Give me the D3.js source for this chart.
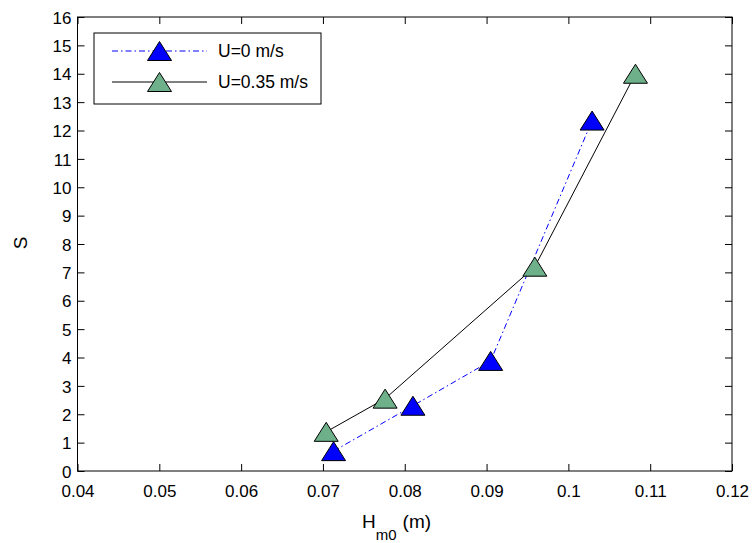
<!DOCTYPE html>
<html>
<head>
<meta charset="utf-8">
<script src="https://cdn.jsdelivr.net/npm/d3@7"></script>
<style>
  body { margin: 0; background: #fff; }
  text { font-family: "Liberation Sans", Arial, sans-serif; fill: #000; }
</style>
</head>
<body>
<svg id="chart" width="752" height="543"></svg>
<script>
// data
var xTicks = [0.04, 0.05, 0.06, 0.07, 0.08, 0.09, 0.1, 0.11, 0.12];
var yTicks = d3.range(0, 17);

// U = 0 m/s
var calmX = [0.0713, 0.0810, 0.0905, 0.1029];
var calmY = [0.70, 2.30, 3.88, 12.35];

// U = 0.35 m/s
var currX = [0.0704, 0.0776, 0.0959, 0.1082];
var currY = [1.38, 2.55, 7.20, 14.0];

var seriesNames = ["U=0 m/s", "U=0.35 m/s"];

// plot frame
var svg = d3.select("#chart");
var frame = {left: 77.5, right: 732, top: 17, bottom: 471};
var tickLen = 7;

var x = d3.scaleLinear().domain([0.04, 0.12]).range([frame.left, frame.right]);
var y = d3.scaleLinear().domain([0, 16]).range([frame.bottom, frame.top]);

var fmtX = function(d) { return d3.format(".2f")(d).replace(/0$/, "").replace(/^(\d\.\d)$/, "$10"); };
var fmtXt = function(d) {
  var s = String(+d.toFixed(2));
  return s;
};

// axes: ticks inside, on all four sides
svg.append("g")
   .attr("transform", "translate(0," + frame.bottom + ")")
   .call(d3.axisBottom(x).tickValues(xTicks).tickSizeInner(-tickLen).tickSizeOuter(0).tickFormat(fmtXt))
   .call(function(g) {
     g.select(".domain").remove();
     g.selectAll("text").attr("dy", null).attr("y", 26).style("font-size", "17px")
      .style("font-family", "Liberation Sans, Arial, sans-serif");
   });

svg.append("g")
   .attr("transform", "translate(0," + frame.top + ")")
   .call(d3.axisTop(x).tickValues(xTicks).tickSizeInner(-tickLen).tickSizeOuter(0).tickFormat(""))
   .call(function(g) { g.select(".domain").remove(); });

svg.append("g")
   .attr("transform", "translate(" + frame.left + ",0)")
   .call(d3.axisLeft(y).tickValues(yTicks).tickSizeInner(-tickLen).tickSizeOuter(0))
   .call(function(g) {
     g.select(".domain").remove();
     g.selectAll("text").attr("x", -6).attr("dy", "0.36em").style("font-size", "17px")
      .style("font-family", "Liberation Sans, Arial, sans-serif");
   });

svg.append("g")
   .attr("transform", "translate(" + frame.right + ",0)")
   .call(d3.axisRight(y).tickValues(yTicks).tickSizeInner(-tickLen).tickSizeOuter(0).tickFormat(""))
   .call(function(g) { g.select(".domain").remove(); });

// box
svg.append("rect")
   .attr("x", frame.left).attr("y", frame.top)
   .attr("width", frame.right - frame.left)
   .attr("height", frame.bottom - frame.top)
   .style("fill", "none").style("stroke", "#000").style("stroke-width", 1);

// axis titles
var xt = svg.append("text")
   .attr("x", 362).attr("y", 528)
   .style("font-size", "19px");
xt.append("tspan").text("H");
xt.append("tspan").attr("dy", 12).style("font-size", "15px").text("m0");
xt.append("tspan").attr("dy", -12).attr("dx", 6).text("(m)");

svg.append("text")
   .attr("transform", "translate(27,243) rotate(-90)")
   .attr("text-anchor", "middle")
   .style("font-size", "19px")
   .text("S");

// series
var triangle = "M0,-9.5L12,9.5L-12,9.5Z";
var line = d3.line().x(function(d) { return x(d[0]); }).y(function(d) { return y(d[1]); });

var calm = d3.zip(calmX, calmY);
var curr = d3.zip(currX, currY);

var styles = [
  {data: calm, stroke: "#0000ff", dash: "6,3,1.5,3", fill: "#0000ff"},
  {data: curr, stroke: "#000000", dash: null, fill: "#6db08a"}
];

styles.forEach(function(s) {
  svg.append("path")
     .datum(s.data)
     .attr("d", line)
     .style("fill", "none")
     .style("stroke", s.stroke)
     .style("stroke-width", 1)
     .style("stroke-dasharray", s.dash);

  svg.append("g")
     .selectAll("path.marker")
     .data(s.data)
     .enter()
     .append("path")
     .attr("class", "marker")
     .attr("d", triangle)
     .attr("transform", function(d) { return "translate(" + x(d[0]) + "," + y(d[1]) + ")"; })
     .style("fill", s.fill)
     .style("stroke", "#000")
     .style("stroke-width", 1);
});

// legend
var legend = svg.append("g");
legend.append("rect")
      .attr("x", 94).attr("y", 33).attr("width", 227).attr("height", 71)
      .style("fill", "#fff").style("stroke", "#000").style("stroke-width", 1);

var rowY = [51, 82];
styles.forEach(function(s, i) {
  legend.append("line")
        .attr("x1", 112).attr("x2", 207)
        .attr("y1", rowY[i]).attr("y2", rowY[i])
        .style("stroke", s.stroke)
        .style("stroke-width", 1)
        .style("stroke-dasharray", s.dash);
  legend.append("path")
        .attr("d", triangle)
        .attr("transform", "translate(159.5," + rowY[i] + ")")
        .style("fill", s.fill)
        .style("stroke", "#000");
  legend.append("text")
        .attr("x", 218).attr("y", rowY[i])
        .attr("dy", "0.36em")
        .style("font-size", "17.5px")
        .text(seriesNames[i]);
});
</script>
</body>
</html>
